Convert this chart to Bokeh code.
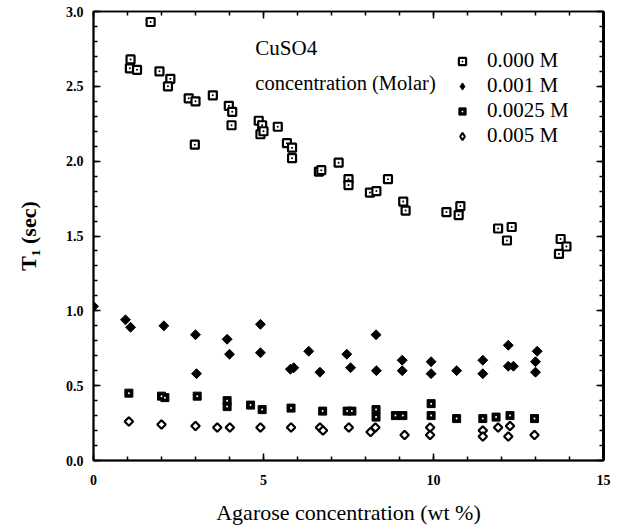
import numpy as np
from bokeh.plotting import figure
from bokeh.models import (Range1d, LinearAxis, Label, Legend, LegendItem,
                          PrintfTickFormatter, SingleIntervalTicker, CustomJSTickFormatter)
from bokeh.embed import file_html
from bokeh.resources import INLINE

# 0.000 M CuSO4
x_000 = [1.68, 1.09, 1.07, 1.28, 1.94, 2.26, 2.19, 2.80, 3.00, 2.98, 3.51, 3.98, 4.08, 4.06,
         4.86, 4.96, 4.91, 5.00, 5.42, 5.69, 5.84, 5.84, 6.63, 6.70, 7.21, 7.50, 7.50, 8.13,
         8.32, 8.66, 9.11, 9.18, 10.38, 10.74, 10.79, 11.90, 12.30, 12.16, 13.74, 13.91, 13.69]
y_000 = [2.93, 2.68, 2.62, 2.61, 2.60, 2.55, 2.50, 2.42, 2.40, 2.11, 2.44, 2.37, 2.33, 2.24,
         2.27, 2.24, 2.18, 2.20, 2.23, 2.12, 2.09, 2.02, 1.93, 1.94, 1.99, 1.88, 1.84, 1.79,
         1.80, 1.88, 1.73, 1.67, 1.66, 1.64, 1.70, 1.55, 1.56, 1.47, 1.48, 1.43, 1.38]

# 0.001 M CuSO4
x_001 = [0.00, 0.94, 1.09, 2.07, 3.00, 3.03, 3.93, 4.00, 4.91, 4.91, 5.79, 5.89, 6.33, 6.66,
         7.45, 7.56, 8.31, 8.32, 9.08, 9.08, 9.93, 9.93, 10.68, 11.45, 11.45, 12.20, 12.20,
         12.35, 13.05, 13.00, 13.00]
y_001 = [1.03, 0.94, 0.89, 0.90, 0.84, 0.58, 0.81, 0.71, 0.91, 0.72, 0.61, 0.62, 0.73, 0.59,
         0.71, 0.62, 0.84, 0.60, 0.67, 0.60, 0.66, 0.58, 0.60, 0.67, 0.58, 0.77, 0.63,
         0.63, 0.73, 0.66, 0.59]

# 0.0025 M CuSO4
x_0025 = [1.04, 2.00, 2.10, 3.05, 3.93, 3.93, 4.62, 4.96, 5.81, 6.74, 7.46, 7.60, 8.31, 8.31,
          8.88, 9.10, 9.93, 9.93, 10.68, 11.45, 11.84, 12.25, 12.97]
y_0025 = [0.45, 0.43, 0.42, 0.43, 0.40, 0.36, 0.37, 0.34, 0.35, 0.33, 0.33, 0.33, 0.34, 0.29,
          0.30, 0.30, 0.38, 0.30, 0.28, 0.28, 0.29, 0.30, 0.28]

# 0.005 M CuSO4
x_005 = [1.04, 2.00, 3.00, 3.64, 4.01, 4.91, 5.81, 6.66, 6.75, 7.51, 8.15, 8.29, 9.15, 9.90,
         9.90, 11.45, 11.45, 11.90, 12.25, 12.20, 12.97]
y_005 = [0.26, 0.24, 0.23, 0.22, 0.22, 0.22, 0.22, 0.22, 0.20, 0.22, 0.19, 0.22, 0.17, 0.22,
         0.17, 0.20, 0.16, 0.22, 0.23, 0.16, 0.17]

labels = ["0.000 M", "0.001 M", "0.0025 M", "0.005 M"]
x_title = "Agarose concentration (wt %)"
y_title = "T\u2081 (sec)"
note1 = "CuSO4"
note2 = "concentration (Molar)"

SERIF = "Liberation Serif"

p = figure(width=620, height=527, output_backend="svg", toolbar_location=None,
           x_range=Range1d(0, 15), y_range=Range1d(0, 3.0),
           min_border_left=93, min_border_right=17, min_border_top=11, min_border_bottom=67)
p.background_fill_color = "white"
p.border_fill_color = "white"
p.outline_line_color = "black"
p.outline_line_width = 1.5
p.xgrid.visible = False
p.ygrid.visible = False

xt = SingleIntervalTicker(interval=5, num_minor_ticks=5)
yt = SingleIntervalTicker(interval=0.5, num_minor_ticks=5)

def style_axis(ax, show_labels=True):
    ax.axis_line_color = "black"
    ax.axis_line_width = 2
    ax.major_tick_in = 7
    ax.major_tick_out = 0
    ax.minor_tick_in = 4
    ax.minor_tick_out = 0
    ax.major_tick_line_width = 1.5
    ax.minor_tick_line_width = 1.5
    ax.major_tick_line_color = "black"
    ax.minor_tick_line_color = "black"
    if show_labels:
        ax.major_label_text_font = SERIF
        ax.major_label_text_font_style = "bold"
        ax.major_label_text_font_size = "14px"
        ax.major_label_text_color = "black"
        ax.axis_label_text_font = SERIF
        ax.axis_label_text_font_style = "normal"
        ax.axis_label_text_font_size = "22px"
        ax.axis_label_text_color = "black"
    else:
        ax.formatter = CustomJSTickFormatter(code="return ''")
        ax.major_label_text_font_size = "1px"
        ax.major_label_standoff = 0

p.xaxis.ticker = xt
p.yaxis.ticker = yt
p.yaxis.formatter = PrintfTickFormatter(format="%.1f")
style_axis(p.xaxis[0])
style_axis(p.yaxis[0])
p.xaxis.major_label_standoff = 14
p.yaxis.major_label_standoff = 10
p.xaxis.axis_label = x_title
p.yaxis.axis_label = y_title
p.yaxis.axis_label_text_font_style = "bold"
p.yaxis.axis_label_text_color = "#000000"
p.xaxis.axis_label_standoff = 12
p.yaxis.axis_label_standoff = 22

ax_r = LinearAxis(ticker=yt)
style_axis(ax_r, show_labels=False)
ax_r.axis_line_width = 3
p.add_layout(ax_r, "right")
ax_t = LinearAxis(ticker=xt)
style_axis(ax_t, show_labels=False)
ax_t.axis_line_width = 1.5
p.add_layout(ax_t, "above")

r0 = p.scatter(x_000, y_000, marker="square_dot", size=8, fill_color="white",
               line_color="black", line_width=2.2)
r1 = p.scatter(x_001, y_001, marker="square", angle=np.pi / 4, size=7,
               fill_color="black", line_color="black", line_width=1)
r2a = p.scatter(x_0025, y_0025, marker="square", size=8, fill_color="black",
                line_color="black", line_width=1)
r2b = p.scatter(x_0025, y_0025, marker="dot", size=8, line_color="white",
                fill_color="white")
r3 = p.scatter(x_005, y_005, marker="square", angle=np.pi / 4, size=6,
               fill_color="white", line_color="black", line_width=2.2)

# legend-only key glyphs for the diamond series (legend keys cannot be rotated);
# they hold no drawable point
k1 = p.scatter([np.nan], [np.nan], marker="diamond", fill_color="black",
               line_color="black", line_width=1)
k3 = p.scatter([np.nan], [np.nan], marker="diamond", fill_color="white",
               line_color="black", line_width=2)

legend = Legend(items=[LegendItem(label=labels[0], renderers=[r0]),
                       LegendItem(label=labels[1], renderers=[k1]),
                       LegendItem(label=labels[2], renderers=[r2a, r2b]),
                       LegendItem(label=labels[3], renderers=[k3])],
                location=(360, 312), orientation="vertical",
                padding=0, margin=0, spacing=0,
                glyph_width=18, glyph_height=24, label_height=24,
                label_standoff=16,
                label_text_font=SERIF, label_text_font_size="21px",
                label_text_color="black",
                border_line_color=None, background_fill_alpha=0)
p.add_layout(legend, "center")

p.add_layout(Label(x=4.76, y=2.753, text=note1, text_font=SERIF, text_font_size="21px",
                   text_baseline="middle", text_align="left", text_color="black"))
p.add_layout(Label(x=4.76, y=2.52, text=note2, text_font=SERIF, text_font_size="20.5px",
                   text_baseline="middle", text_align="left", text_color="black"))

open("out.html", "w").write(file_html(p, INLINE))
